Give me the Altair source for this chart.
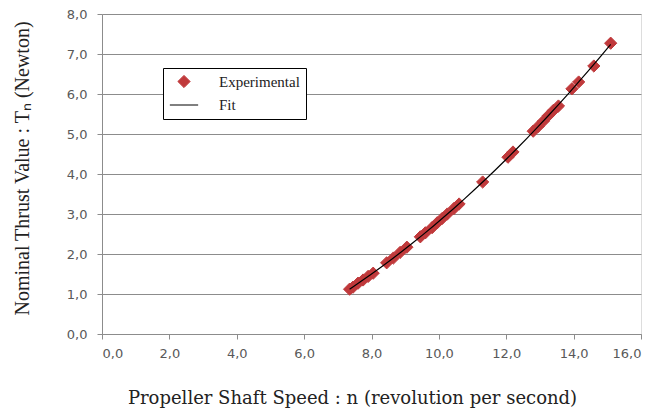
import altair as alt
import pandas as pd

speed_n = [7.35, 7.45, 7.6, 7.75, 7.9, 8.05, 8.45, 8.65, 8.85, 9.05,
           9.45, 9.6, 9.8, 9.95, 10.1, 10.25, 10.45, 10.6, 11.3, 12.05,
           12.2, 12.8, 12.95, 13.1, 13.25, 13.4, 13.55, 13.95, 14.15, 14.6, 15.1]
thrust_T = [1.12, 1.17, 1.27, 1.35, 1.44, 1.52, 1.78, 1.90, 2.04, 2.17,
            2.43, 2.53, 2.66, 2.78, 2.89, 3.00, 3.14, 3.25, 3.80, 4.42,
            4.55, 5.07, 5.19, 5.32, 5.46, 5.59, 5.70, 6.13, 6.30, 6.70, 7.27]
series_names = ["Experimental", "Fit"]
series_colors = ["#c0393b", "#000000"]

x_ticks = [0, 2, 4, 6, 8, 10, 12, 14, 16]
y_ticks = [0, 1, 2, 3, 4, 5, 6, 7, 8]

df = pd.DataFrame({"n": speed_n, "T": thrust_T, "series": "Experimental"})

label_expr = "replace(format(datum.value, '.1f'), '.', ',')"

x_axis = alt.Axis(values=x_ticks, labelExpr=label_expr, grid=False, labelOverlap=False,
                  title="Propeller Shaft Speed : n (revolution per second)",
                  titleFont="DejaVu Serif", titleFontSize=18, titleFontWeight="normal",
                  titleColor="#222222", titleX=250, titleY=64, titleBaseline="middle",
                  labelFont="DejaVu Sans", labelFontSize=13, labelColor="#595959",
                  labelPadding=8, tickSize=5, tickColor="#8c8c8c",
                  domainColor="#8c8c8c")
y_axis = alt.Axis(values=y_ticks, labelExpr=label_expr, grid=True, labelOverlap=False,
                  tickCount=9, gridColor="#8c8c8c", gridWidth=1,
                  title="Nominal Thrust Value : Tₙ (Newton)",
                  titleFont="Liberation Serif", titleFontSize=20, titleFontWeight="normal",
                  titleColor="#222222", titleX=-80, titleY=154, titleBaseline="middle",
                  labelFont="DejaVu Sans", labelFontSize=13, labelColor="#595959",
                  labelPadding=10, tickSize=5, tickColor="#8c8c8c",
                  domainColor="#8c8c8c")

x_enc = alt.X("n:Q", scale=alt.Scale(domain=[0, 16], nice=False), axis=x_axis)
y_enc = alt.Y("T:Q", scale=alt.Scale(domain=[0, 8], nice=False), axis=y_axis)

legend = alt.Legend(title=None, orient="none", legendX=61, legendY=54,
                    fillColor="white", strokeColor="black", padding=6,
                    rowPadding=0, labelFont="Liberation Serif", labelFontSize=15,
                    labelColor="#222222", labelOffset=20, symbolStrokeWidth=1)

fill_enc = alt.Fill("series:N", scale=alt.Scale(domain=series_names, range=series_colors), legend=legend)
stroke_enc = alt.Stroke("series:N", scale=alt.Scale(domain=series_names, range=series_colors), legend=legend)
shape_enc = alt.Shape("series:N", scale=alt.Scale(domain=series_names, range=["diamond", "stroke"]), legend=legend)
size_enc = alt.Size("series:N", scale=alt.Scale(domain=series_names, range=[150, 800]), legend=legend)

points = alt.Chart(df).mark_point(filled=True, opacity=1, strokeWidth=1).encode(
    x=x_enc, y=y_enc, fill=fill_enc, stroke=stroke_enc, shape=shape_enc, size=size_enc
)

fit = alt.Chart(df).transform_regression(
    "n", "T", method="poly", order=2
).transform_calculate(series="'Fit'").mark_line(strokeWidth=1.2).encode(
    x=x_enc, y=y_enc, stroke=stroke_enc
)

chart = alt.layer(points, fit).properties(
    width=539, height=320,
    autosize=alt.AutoSizeParams(type="none"),
    padding={"left": 94, "top": 6, "right": 5, "bottom": 80},
).configure_view(stroke=None).configure_axis(
    labelOverlap=False
).configure(background="white")

chart.save("out.html", embed_options={"renderer": "svg", "actions": False})
